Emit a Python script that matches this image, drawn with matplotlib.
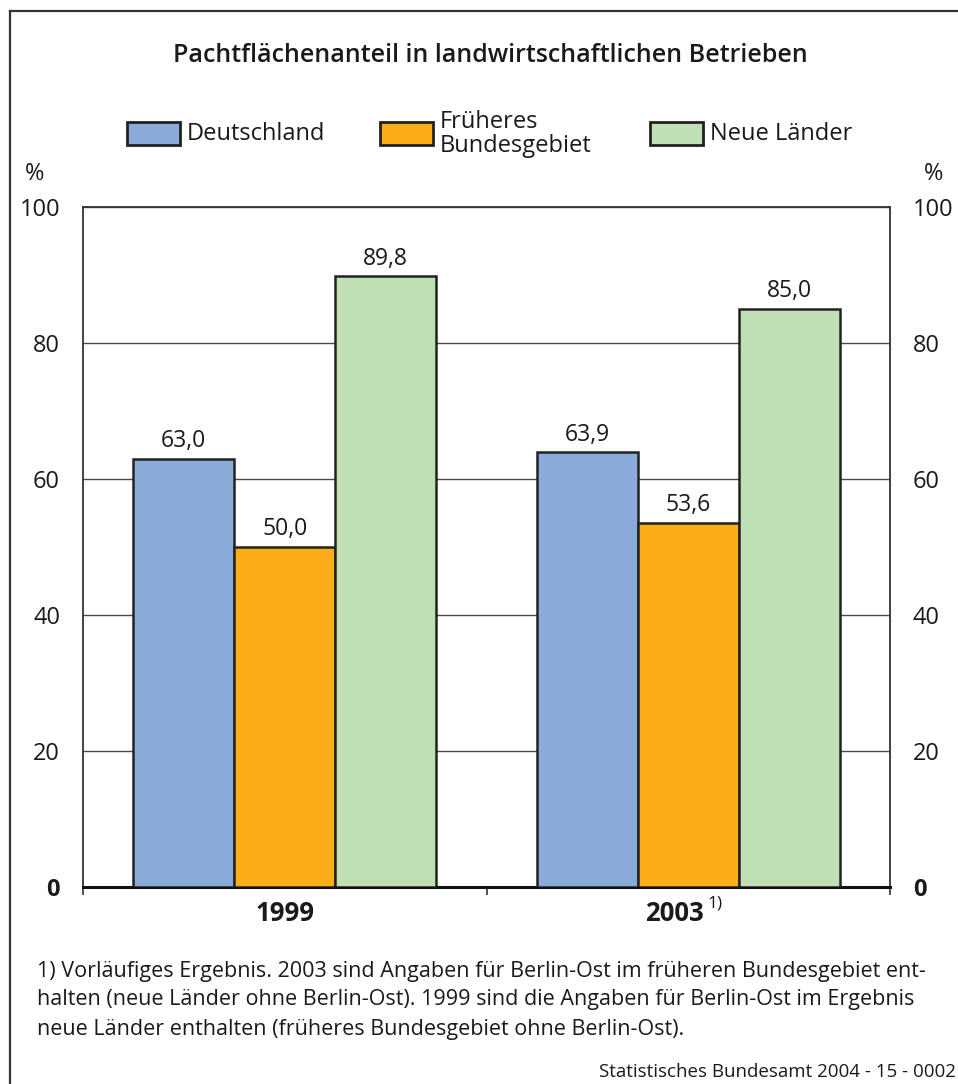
"""
Pachtflächenanteil in landwirtschaftlichen Betrieben
"""

import matplotlib
matplotlib.use('Agg')
import matplotlib.pyplot as plt
import numpy as np
from matplotlib.patches import Rectangle
from matplotlib.lines import Line2D

plt.rcParams['font.family'] = ['Open Sans', 'DejaVu Sans']

# Data
years = ['1999', '2003']
year_notes = ['', '1)']
series = ['Deutschland', 'Früheres\nBundesgebiet', 'Neue Länder']
deutschland = [63.0, 63.9]
frueheres_bundesgebiet = [50.0, 53.6]
neue_laender = [89.8, 85.0]
y_ticks = [0, 20, 40, 60, 80, 100]

BLUE = '#8aabda'
ORANGE = '#fbae17'
GREEN = '#bfe0b5'
EDGE = '#222222'
GRID = '#4a4a4a'
TEXT = '#1a1a1a'

W, H = 958, 1084
fig = plt.figure(figsize=(W / 100, H / 100), dpi=100, facecolor='white')

# Overlay in pixel coordinates for frame, legend and notes
ov = fig.add_axes([0, 0, 1, 1], zorder=-1)
ov.set_xlim(0, W)
ov.set_ylim(H, 0)
ov.axis('off')

# Outer frame (open to the right and bottom)
ov.add_line(Line2D([10, 10], [11, H + 5], color='#333333', lw=1.6))
ov.add_line(Line2D([10, W + 5], [11, 11], color='#333333', lw=1.6))

# Title
ov.text(490, 56, 'Pachtflächenanteil in landwirtschaftlichen Betrieben',
        fontsize=18, fontweight='semibold', color=TEXT, ha='center',
        va='center')

# Legend
legend_items = [(127, BLUE, series[0]), (380, ORANGE, series[1]), (650, GREEN, series[2])]
for x0, col, lab in legend_items:
    ov.add_patch(Rectangle((x0, 122), 53, 23, facecolor=col,
                           edgecolor=EDGE, lw=2))
    ov.text(x0 + 60, 134, lab, fontsize=17, color=TEXT, ha='left',
            va='center', linespacing=1.0)

# Percent signs above both axes
ov.text(35, 174, '%', fontsize=17, color=TEXT, ha='center', va='center')
ov.text(934, 174, '%', fontsize=17, color=TEXT, ha='center', va='center')

# Bar chart
ax = fig.add_axes([83 / W, 1 - 887 / H, 807 / W, 680 / H])
x = np.arange(len(years))
width = 0.25
colors = [BLUE, ORANGE, GREEN]
values = [deutschland, frueheres_bundesgebiet, neue_laender]
for i, (vals, col) in enumerate(zip(values, colors)):
    bars = ax.bar(x + (i - 1) * width, vals, width, color=col,
                  edgecolor=EDGE, linewidth=1.8, zorder=3)
    ax.bar_label(bars, labels=[f'{v:.1f}'.replace('.', ',') for v in vals],
                 padding=4, fontsize=16.5, color=TEXT)

ax.set_xlim(-0.5, 1.5)
ax.set_ylim(0, 100)
ax.set_yticks(y_ticks)
ax.yaxis.grid(True, color=GRID, lw=1.0, zorder=0)
ax.set_axisbelow(True)

for side in ['top', 'left', 'right']:
    ax.spines[side].set_color('#333333')
    ax.spines[side].set_linewidth(1.3)
ax.spines['bottom'].set_color('#111111')
ax.spines['bottom'].set_linewidth(2.2)

ax.tick_params(axis='y', left=False, right=False, labelleft=True,
               labelright=True, labelsize=17, labelcolor=TEXT, pad=13)
ax.yaxis.get_major_ticks()[0].label1.set_fontweight('bold')
ax.yaxis.get_major_ticks()[0].label2.set_fontweight('bold')

ax.set_xticks([-0.5, 0.5, 1.5])
ax.set_xticklabels([])
ax.tick_params(axis='x', which='major', direction='out', length=6,
               width=1.2, color='#333333')

# Year labels under each group, with footnote marker where needed
for xi, yr, note in zip(x, years, year_notes):
    shift = -10 if note else 0
    ax.annotate(yr, xy=(xi, 0), xycoords=('data', 'axes fraction'),
                xytext=(shift, -19), textcoords='offset points',
                fontsize=18.5, fontweight='bold', color=TEXT,
                ha='center', va='center')
    if note:
        ax.annotate(note, xy=(xi, 0), xycoords=('data', 'axes fraction'),
                    xytext=(13.5, -12), textcoords='offset points',
                    fontsize=12.5, color=TEXT, ha='left', va='center')

# Footnote and source
notes = ('1) Vorläufiges Ergebnis. 2003 sind Angaben für Berlin-Ost im früheren Bundesgebiet ent-\n'
         'halten (neue Länder ohne Berlin-Ost). 1999 sind die Angaben für Berlin-Ost im Ergebnis\n'
         'neue Länder enthalten (früheres Bundesgebiet ohne Berlin-Ost).')
ov.text(37, 1000, notes, fontsize=15.5, color=TEXT, ha='left', va='center',
        linespacing=1.5)
ov.text(956, 1072, 'Statistisches Bundesamt 2004 - 15 - 0002', fontsize=13.5,
        color=TEXT, ha='right', va='center')

fig.savefig('out.png', dpi=100, facecolor='white')
